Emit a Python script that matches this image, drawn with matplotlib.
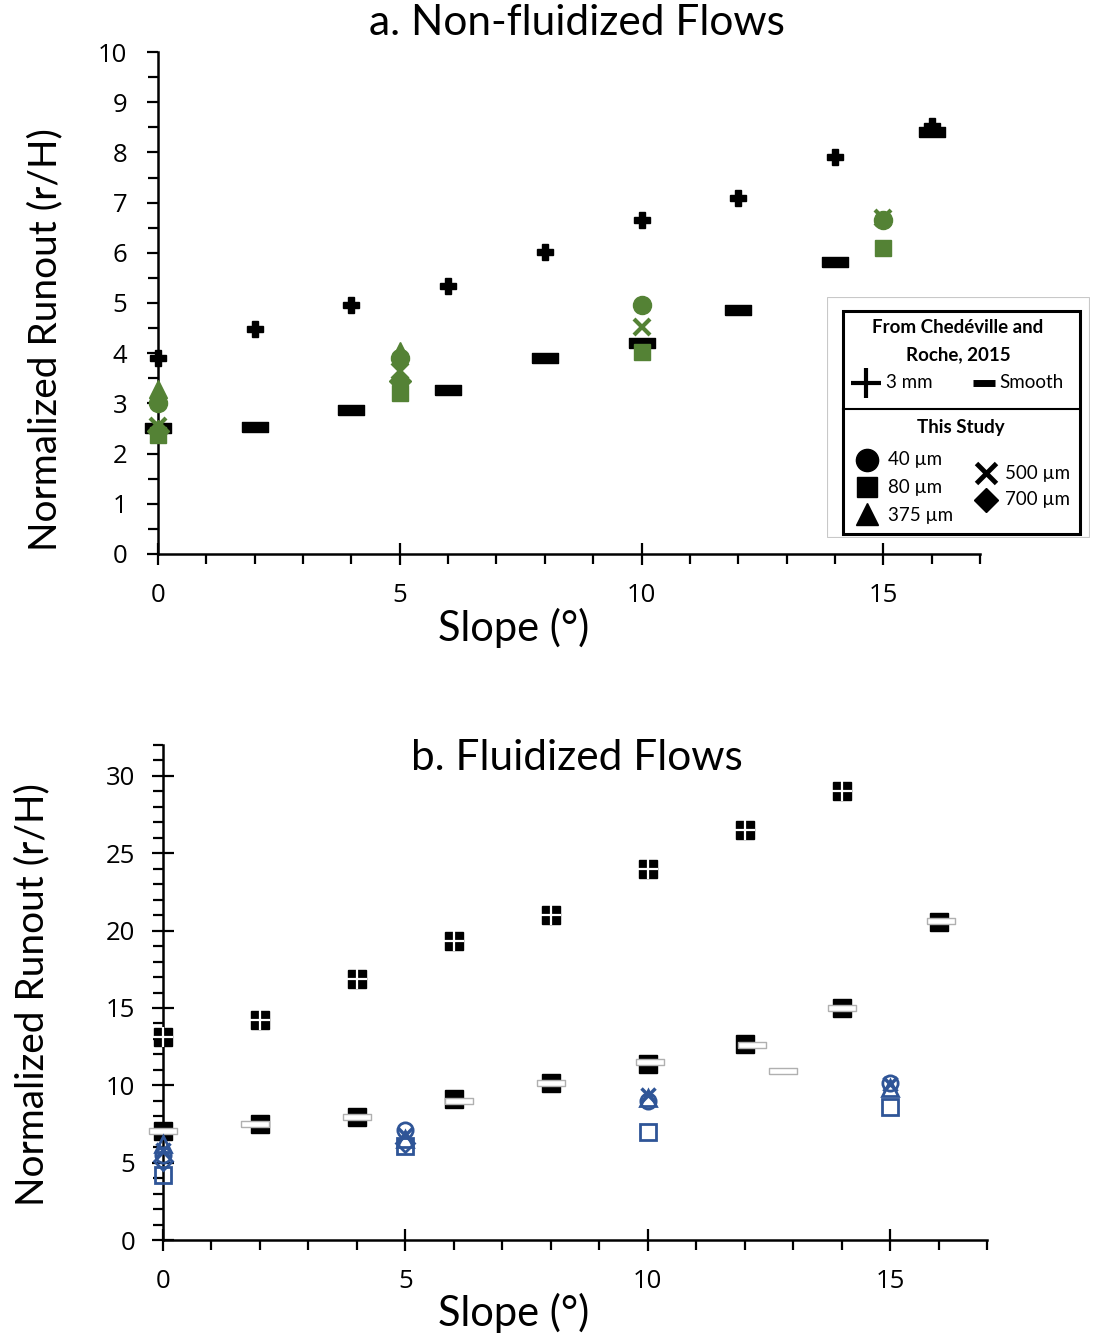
import numpy as np
import matplotlib
matplotlib.use("Agg")
import matplotlib.pyplot as plt
from matplotlib.ticker import MultipleLocator

nan = np.nan
GREEN = "#548235"
BLUE = "#2F5597"

# ---------------- data: panel a (non-fluidized) ----------------
a_ref_x = [0, 2, 4, 6, 8, 10, 12, 14, 16]
a_3mm = [3.9, 4.48, 4.96, 5.34, 6.02, 6.65, 7.09, 7.91, 8.53]
a_smooth = [2.51, 2.53, 2.87, 3.27, 3.90, 4.20, 4.86, 5.82, 8.41]

study_x = [0, 5, 10, 15]
a_40 = [3.0, 3.9, 4.97, 6.65]
a_80 = [2.37, 3.2, 4.02, 6.1]
a_375 = [3.28, 4.05, nan, nan]
a_500 = [2.55, 3.65, 4.52, 6.69]
a_700 = [2.45, 3.45, nan, nan]

# ---------------- data: panel b (fluidized) ----------------
b_ref_x = [0, 2, 4, 6, 8, 10, 12, 14]
b_3mm = [13.1, 14.2, 16.9, 19.3, 21.0, 24.0, 26.5, 29.0]
b_smooth_x = [0, 2, 4, 6, 8, 10, 12, 14, 16]
b_smooth = [7.05, 7.5, 7.95, 9.1, 10.15, 11.4, 12.7, 15.0, 20.55]
b_white_x = [0, 1.9, 4.0, 6.1, 8.0, 10.05, 12.15, 12.8, 14.0, 16.05]
b_white = [7.05, 7.5, 7.95, 9.0, 10.15, 11.5, 12.6, 10.9, 15.0, 20.6]
b_40 = [5.5, 7.1, 9.0, 10.15]
b_80 = [4.2, 6.1, 7.0, 8.6]
b_375 = [6.2, 6.5, 9.2, 9.8]
b_500 = [5.8, 6.8, 9.4, 10.1]
b_700 = [5.1, 6.3, nan, nan]

TITLE_FONT = ["Lato", "DejaVu Sans"]
TICK_FONT = ["Open Sans", "DejaVu Sans"]

fig = plt.figure(figsize=(10.94, 13.42), dpi=100)
W, H = 1094, 1342

def px_axes(l, r, t, b):
    return fig.add_axes([l / W, 1 - b / H, (r - l) / W, (b - t) / H])

ax1 = px_axes(158, 980, 52, 554)
ax2 = px_axes(163, 987, 745, 1240)

rect_marker = [(-1, -0.36), (1, -0.36), (1, 0.36), (-1, 0.36), (-1, -0.36)]
thin_rect = [(-1, -0.2), (1, -0.2), (1, 0.2), (-1, 0.2), (-1, -0.2)]

def style_axes(ax, ymax, ymajor, yminor, yinout, ylab_x, ylab_y, xlab_y):
    for s in ["top", "right"]:
        ax.spines[s].set_visible(False)
    for s in ["left", "bottom"]:
        ax.spines[s].set_linewidth(1.8)
    ax.set_xlim(0, 17)
    ax.set_ylim(0, ymax)
    ax.spines["left"].set_bounds(0, ymax)
    ax.spines["bottom"].set_bounds(0, 17)
    ax.xaxis.set_major_locator(MultipleLocator(5))
    ax.xaxis.set_minor_locator(MultipleLocator(1))
    ax.yaxis.set_major_locator(MultipleLocator(ymajor))
    ax.yaxis.set_minor_locator(MultipleLocator(yminor))
    ax.tick_params(axis="x", which="major", direction="inout", length=16, width=1.6, pad=13)
    ax.tick_params(axis="x", which="minor", direction="out", length=7, width=1.6)
    ax.tick_params(axis="y", which="major", direction=yinout, length=16 if yinout == "inout" else 8,
                   width=1.6, pad=14 if yinout == "out" else 12)
    ax.tick_params(axis="y", which="minor", direction="out", length=7, width=1.6)
    for lab in ax.get_xticklabels() + ax.get_yticklabels():
        lab.set_family(TICK_FONT)
        lab.set_fontsize(18.5)
    ax.set_xlabel("Slope (°)", family=TITLE_FONT, fontsize=30)
    ax.set_ylabel("Normalized Runout (r/H)", family=TITLE_FONT, fontsize=28)
    pos = ax.get_position()
    ax.yaxis.set_label_coords((ylab_x / W - pos.x0) / pos.width,
                              ((1 - ylab_y / H) - pos.y0) / pos.height)
    ax.xaxis.set_label_coords((514 / W - pos.x0) / pos.width,
                              ((1 - xlab_y / H) - pos.y0) / pos.height)
    ax.xaxis.label.set_va("center")
    ax.yaxis.label.set_va("center")
    ax.set_facecolor("none")

# ---------------- panel a ----------------
ax1.plot(a_ref_x, a_3mm, ls="none", marker="P", ms=11, color="black", mec="black", zorder=3, clip_on=False)
ax1.plot(a_ref_x, a_smooth, ls="none", marker=rect_marker, ms=19, color="black", zorder=3, clip_on=False)
ax1.plot(study_x, a_700, ls="none", marker="D", ms=11, color=GREEN, zorder=4, clip_on=False)
ax1.plot(study_x, a_375, ls="none", marker="^", ms=13, color=GREEN, zorder=4, clip_on=False)
ax1.plot(study_x, a_40, ls="none", marker="o", ms=13, color=GREEN, zorder=4, clip_on=False)
ax1.plot(study_x, a_500, ls="none", marker="x", ms=12, mew=3, color=GREEN, zorder=4, clip_on=False)
ax1.plot(study_x, a_80, ls="none", marker="s", ms=12, color=GREEN, zorder=5, clip_on=False)
style_axes(ax1, 10, 1, 0.5, "out", 45, 340, 628)
ax1.set_yticks(range(0, 11))

# ---------------- panel b ----------------
ax2.plot(b_ref_x, b_3mm, ls="none", marker="s", ms=13, color="black", zorder=3, clip_on=False)
ax2.plot(b_ref_x, b_3mm, ls="none", marker="+", ms=14, mew=1.6, color="white", zorder=3.5, clip_on=False)
ax2.plot(b_smooth_x, b_smooth, ls="none", marker="s", ms=13, color="black", zorder=3, clip_on=False)
ax2.plot(b_white_x, b_white, ls="none", marker=thin_rect, ms=20, mfc="white", mec="#B0B0B0", mew=1.0,
         zorder=3.6, clip_on=False)
ax2.plot(study_x, b_80, ls="none", marker="s", ms=11, mfc="none", mec=BLUE, mew=2, zorder=4, clip_on=False)
ax2.plot(study_x, b_700, ls="none", marker="D", ms=9, mfc="none", mec=BLUE, mew=2, zorder=4, clip_on=False)
ax2.plot(study_x, b_375, ls="none", marker="^", ms=11, mfc="none", mec=BLUE, mew=2, zorder=4, clip_on=False)
ax2.plot(study_x, b_40, ls="none", marker="o", ms=11, mfc="none", mec=BLUE, mew=2, zorder=4, clip_on=False)
ax2.plot(study_x, b_500, ls="none", marker="x", ms=10, mew=2.5, color=BLUE, zorder=4, clip_on=False)
style_axes(ax2, 32, 5, 1, "inout", 32, 995, 1313)
ax2.set_yticks(range(0, 31, 5))

# titles
fig.text(577 / W, 1 - 23 / H, "a. Non-fluidized Flows", family=TITLE_FONT, fontsize=30.5,
         ha="center", va="center")
fig.text(577 / W, 1 - 758 / H, "b. Fluidized Flows", family=TITLE_FONT, fontsize=30.5,
         ha="center", va="center")

# ---------------- legend (drawn in pixel coordinates) ----------------
lg = px_axes(827, 1090, 297, 538)
lg.set_xlim(827, 1090)
lg.set_ylim(538, 297)
lg.axis("off")
lg.add_patch(plt.Rectangle((827, 297), 262, 240, fill=True, fc="white", ec="#C8C8C8", lw=0.8))
lg.add_patch(plt.Rectangle((843, 311), 237, 223, fill=False, ec="black", lw=2.2))
lg.plot([843, 1080], [409, 409], color="black", lw=1.5)
LF = ["Lato", "DejaVu Sans"]
lg.text(958, 328, "From Chedéville and", family=LF, fontsize=13.5, weight="bold", ha="center", va="center")
lg.text(958, 355, "Roche, 2015", family=LF, fontsize=13.5, weight="bold", ha="center", va="center")
lg.plot([866], [383], marker="+", ms=22, mew=3, color="black")
lg.text(886, 383, "3 mm", family=LF, fontsize=13.5, ha="left", va="center")
lg.plot([973, 995], [383, 383], color="black", lw=5, solid_capstyle="butt")
lg.text(999, 383, "Smooth", family=LF, fontsize=13.5, ha="left", va="center")
lg.text(961, 428, "This Study", family=LF, fontsize=13.5, weight="bold", ha="center", va="center")
lg.plot([867], [460], marker="o", ms=16, color="black")
lg.text(888, 460, "40 µm", family=LF, fontsize=13.5, ha="left", va="center")
lg.plot([867], [487], marker="s", ms=14, color="black")
lg.text(888, 487, "80 µm", family=LF, fontsize=13.5, ha="left", va="center")
lg.plot([867], [514], marker="^", ms=16, color="black")
lg.text(888, 515, "375 µm", family=LF, fontsize=13.5, ha="left", va="center")
lg.plot([986], [473], marker="x", ms=14, mew=3.5, color="black")
lg.text(1005, 473, "500 µm", family=LF, fontsize=13.5, ha="left", va="center")
lg.plot([986], [500], marker="D", ms=12, color="black")
lg.text(1005, 500, "700 µm", family=LF, fontsize=13.5, ha="left", va="center")

fig.savefig("out.png", dpi=100)
